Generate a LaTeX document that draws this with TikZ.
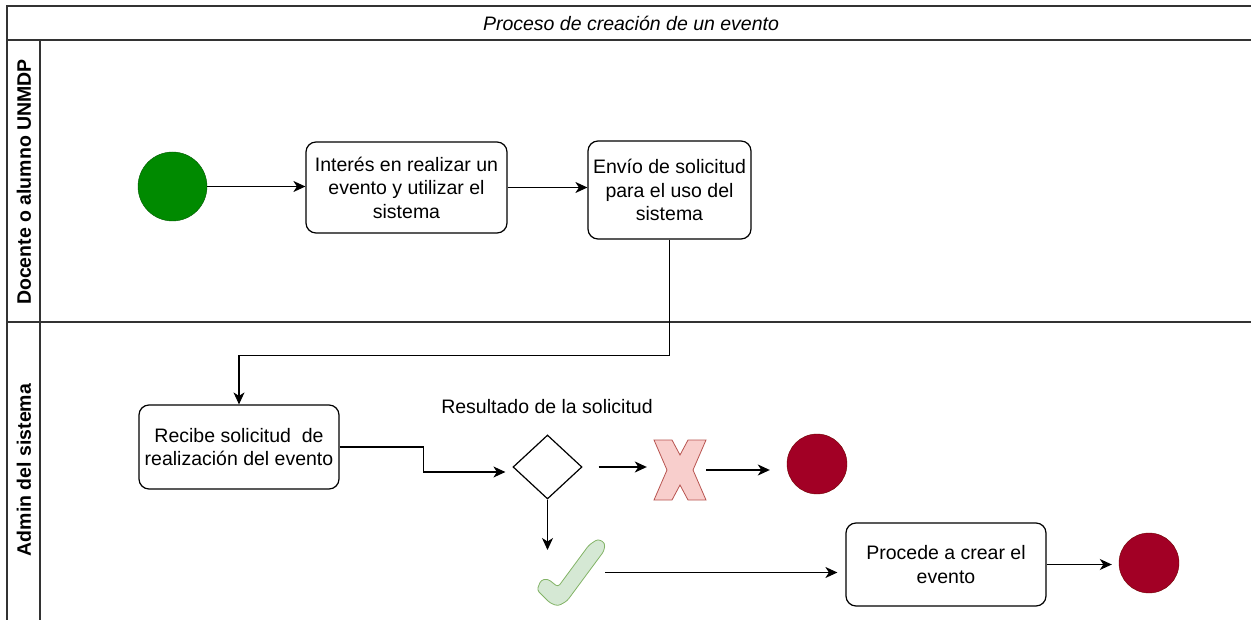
\documentclass[tikz,border=0pt]{standalone}
\usepackage{fontspec}
\setmainfont{Liberation Sans}
\usetikzlibrary{arrows.meta,shapes.geometric}

\definecolor{inigreen}{HTML}{008A00}
\definecolor{inigreenline}{HTML}{005700}
\definecolor{finred}{HTML}{A20025}
\definecolor{finredline}{HTML}{6F0000}
\definecolor{nofill}{HTML}{F8CECC}
\definecolor{noline}{HTML}{B85450}
\definecolor{okfill}{HTML}{D5E8D4}
\definecolor{okline}{HTML}{82B366}

\begin{document}
\begin{tikzpicture}[x=1pt,y=-1pt,
  every node/.style={font=\fontsize{19.5}{23.5}\selectfont},
  act/.style={draw,line width=1.2pt,rounded corners=10pt,align=center,inner sep=0},
  flow/.style={line width=1.2pt,-{Stealth[length=12pt,width=11pt,inset=3.5pt]}},
  lane/.style={line width=1.2pt,draw=black!80},
  lanelabel/.style={rotate=90,font=\fontsize{19.5}{23.5}\selectfont\bfseries},
  start/.style={circle,fill=inigreen,draw=inigreenline,minimum size=69,inner sep=0},
  stop/.style={circle,fill=finred,draw=finredline,minimum size=60,inner sep=0},
  dec/.style={diamond,draw,line width=1.2pt,minimum width=69,minimum height=64,inner sep=0},
  signo/.style={inner sep=0}]
\useasboundingbox (0,0) rectangle (1251,620);

% pool and lanes
\draw[lane] (1251,6) -- (7,6) -- (7,620);
\draw[lane] (7,40) -- (1251,40);
\draw[lane] (7,322) -- (1251,322);
\draw[lane] (40,40) -- (40,620);
\node[font=\fontsize{19.5}{23.5}\selectfont\itshape] (titulo) at (631,23) {Proceso de creación de un evento};
\node[lanelabel] (docente) at (24,182) {Docente o alumno UNMDP};
\node[lanelabel] (admin) at (24,470) {Admin del sistema};

% nodes
\node[start] (ini) at (172.5,186.5) {};
\node[act,minimum width=201,minimum height=91] (interes) at (406.5,187.5) {Interés en realizar un\\evento y utilizar el\\sistema};
\node[act,minimum width=163,minimum height=98] (envio) at (669.5,190) {Envío de solicitud\\para el uso del\\sistema};
\node[act,minimum width=200,minimum height=84] (recibe) at (239,447) {Recibe solicitud\ \ de\\realización del evento};
\node[dec] (resultado) at (547.5,467) {};
\node (lblres) at (547,407) {Resultado de la solicitud};
\node[signo,minimum width=52,minimum height=60] (rechazo) at (680,470) {};
\node[signo,minimum width=68,minimum height=67] (acepta) at (571,572.5) {};
\node[act,minimum width=200,minimum height=83] (crear) at (946,564.5) {Procede a crear el\\evento};
\node[stop] (fin1) at (817,464) {};
\node[stop] (fin2) at (1149,563) {};
\coordinate (okarrow) at (547.5,550);

% X and check marks
\draw[fill=nofill,draw=noline,line width=0.8pt] (654,440) -- (672,440) -- (680,455) -- (688,440) -- (706,440) -- (693,470)
  -- (706,500) -- (688,500) -- (680,485) -- (672,500) -- (654,500) -- (667,470) -- cycle;
\draw[fill=okfill,draw=okline,line width=0.8pt,rounded corners=3pt] (537,590) -- (541,580) -- (548,579) -- (558,587)
  -- (589,545) -- (598,539) -- (605,543) -- (604,551) -- (567,601) -- (558,606) -- (550,603) -- cycle;

% connectors
\draw[flow] (ini.east) -- (ini.east -| interes.west);
\draw[flow] (interes.east) -- (interes.east -| envio.west);
\draw[flow] (envio.south) -- ++(0,116) -| (recibe.north);
\draw[flow,shorten >=7pt] (recibe.east) -- ++(84,0) |- ([yshift=-5pt]resultado.west);
\draw[flow,shorten <=16pt,shorten >=7pt] (resultado.east) -- (resultado.east -| rechazo.west);
\draw[flow,shorten >=17pt] (rechazo.east) -- (rechazo.east -| fin1.west);
\draw[flow] (resultado.south) -- (okarrow);
\draw[flow,shorten >=8pt] (acepta.east) -- (acepta.east -| crear.west);
\draw[flow,shorten >=7pt] (crear.east) -- (crear.east -| fin2.west);
\end{tikzpicture}
\end{document}
